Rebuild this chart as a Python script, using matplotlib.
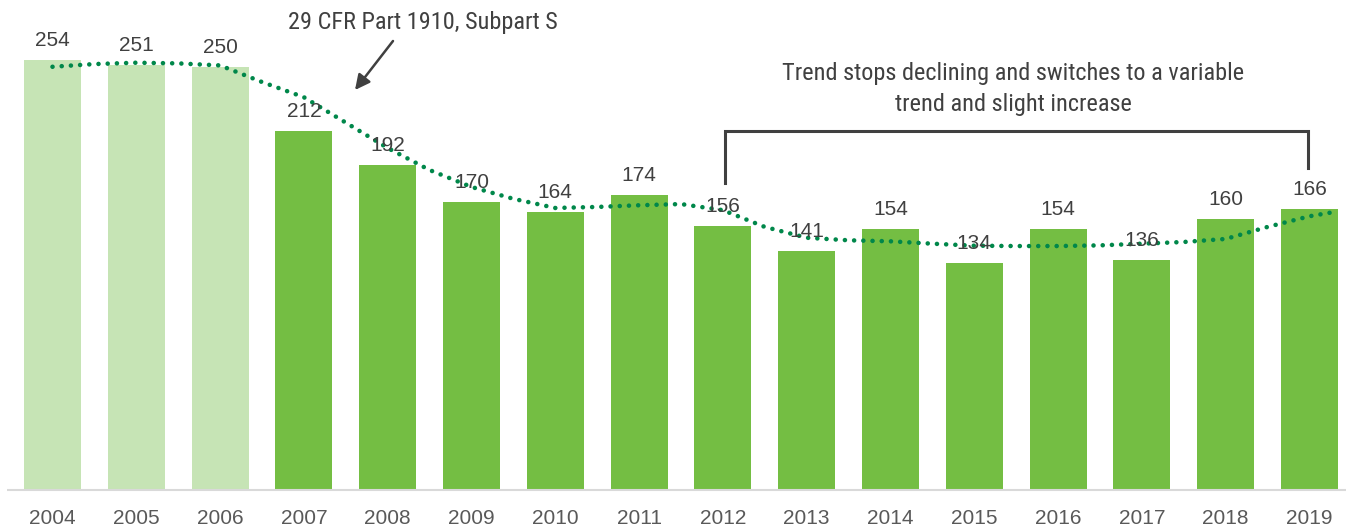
import os
import matplotlib
matplotlib.use("Agg")
import matplotlib.pyplot as plt
from matplotlib import font_manager

years = ["2004", "2005", "2006", "2007", "2008", "2009", "2010", "2011",
         "2012", "2013", "2014", "2015", "2016", "2017", "2018", "2019"]
values = [254, 251, 250, 212, 192, 170, 164, 174, 156, 141, 154, 134, 154, 136, 160, 166]
light_years = ["2004", "2005", "2006"]

# trend line (position in year index, value)
trend_x = [0, 0.5, 1, 1.5, 2, 2.5, 3, 3.5, 4, 4.5, 5, 5.5, 6, 6.5, 7, 7.5,
           8, 8.5, 9, 9.5, 10, 10.5, 11, 11.5, 12, 12.5, 13, 13.5, 14, 14.5, 15, 15.27]
trend_y = [250.0, 251.6, 252.4, 252.0, 250.8, 241, 232, 217, 202, 189, 179, 172,
           166.6, 167.2, 168.2, 168.9, 165.3, 155.4, 149, 147.5, 146.9, 145.5, 144.3,
           144.1, 144.1, 144.5, 145.5, 146.5, 148.3, 155.4, 161.7, 164.0]

annot1 = "29 CFR Part 1910, Subpart S"
annot2 = "Trend stops declining and switches to a variable\ntrend and slight increase"

LIGHT = "#C6E4B5"
GREEN = "#74BE43"
TREND = "#00874A"
TEXT = "#404040"

# look for a plain condensed (not semi/extra) regular face, deterministically
bad = ("semi", "extra", "ultra", "bold", "italic", "light", "thin", "black",
       "medium", "heavy", "oblique", "display")
cands = []
for f in font_manager.fontManager.ttflist:
    base = os.path.basename(f.fname).lower()
    nm = (f.name + " " + base).lower()
    if ("condensed" in nm or "narrow" in nm) and not any(b in base for b in bad) \
            and f.style == "normal":
        pref = 9
        for i, key in enumerate(["robotocondensed", "liberationsansnarrow", "notosans-condensed",
                                 "notosanscondensed", "opensans-condensed", "opensanscondensed"]):
            if key in base.replace("_", "").replace(" ", ""):
                pref = i
                break
        cands.append((pref, base, f.fname))
cands.sort()
if cands:
    cond_prop = font_manager.FontProperties(fname=cands[0][2])
    cond_size = 17
else:
    cond_prop = font_manager.FontProperties(family=["Roboto", "DejaVu Sans"])
    cond_size = 15

plt.rcParams['font.family'] = ['Liberation Sans', 'DejaVu Sans']

W, H = 1346, 529
fig = plt.figure(figsize=(W / 100, H / 100), dpi=100)
left_px = 7
ax = fig.add_axes([left_px / W, 0, 1 - left_px / W, 1])

ppu = 430 / 254.0  # pixels per unit
base_px = 490
ax.set_ylim(-(H - base_px) / ppu, base_px / ppu)
spacing = 83.8
c0 = 52.5
ax.set_xlim(-(c0 - left_px) / spacing, (W - c0) / spacing)
ax.axis("off")

xs = list(range(len(years)))
colors = [LIGHT if y in light_years else GREEN for y in years]
ax.bar(xs, values, width=0.68, color=colors, zorder=2)
ax.axhline(0, color="#D9D9D9", lw=1.5, zorder=3)

for x, v, y in zip(xs, values, years):
    ax.text(x, v + 14 / ppu, str(v), ha="center", va="baseline", fontsize=15, color=TEXT, zorder=5)
    ax.text(x, -(518 - base_px) / ppu, y, ha="center", va="center", fontsize=15, color="#595959")

ax.plot(trend_x, trend_y, color=TREND, lw=3.3, linestyle=(0, (0.01, 2.0)),
        dash_capstyle="round", solid_capstyle="round", zorder=4)

def px2d(px, py):
    return ((px - c0) / spacing, (base_px - py) / ppu)

p1 = cond_prop.copy()
p1.set_size(cond_size)

# scale size so the first annotation spans about 269 px as in the reference
probe = fig.text(0, 0, annot1, fontproperties=p1)
fig.canvas.draw()
wpx = probe.get_window_extent().width
probe.remove()
if wpx > 0:
    p1.set_size(max(14, min(19, cond_size * 269.0 / wpx)))

tx, ty = px2d(422.5, 22)
ax.text(tx, ty, annot1, ha="center", va="center", fontproperties=p1, color=TEXT)
ax.annotate("", xy=px2d(355, 90), xytext=px2d(393, 41),
            arrowprops=dict(arrowstyle="-|>,head_length=0.9,head_width=0.45", color=TEXT, lw=1.8,
                            shrinkA=0, shrinkB=0))

tx2, ty2 = px2d(1013.5, 89)
ax.text(tx2, ty2, annot2, ha="center", va="center", fontproperties=p1, color=TEXT, linespacing=1.4)

bl = px2d(725, 183)
tl = px2d(725, 131)
tr = px2d(1308, 131)
br = px2d(1308, 168)
ax.plot([bl[0], tl[0], tr[0], br[0]], [bl[1], tl[1], tr[1], br[1]], color=TEXT, lw=2.2,
        solid_joinstyle="miter", zorder=3)

fig.savefig("out.png", dpi=100)
